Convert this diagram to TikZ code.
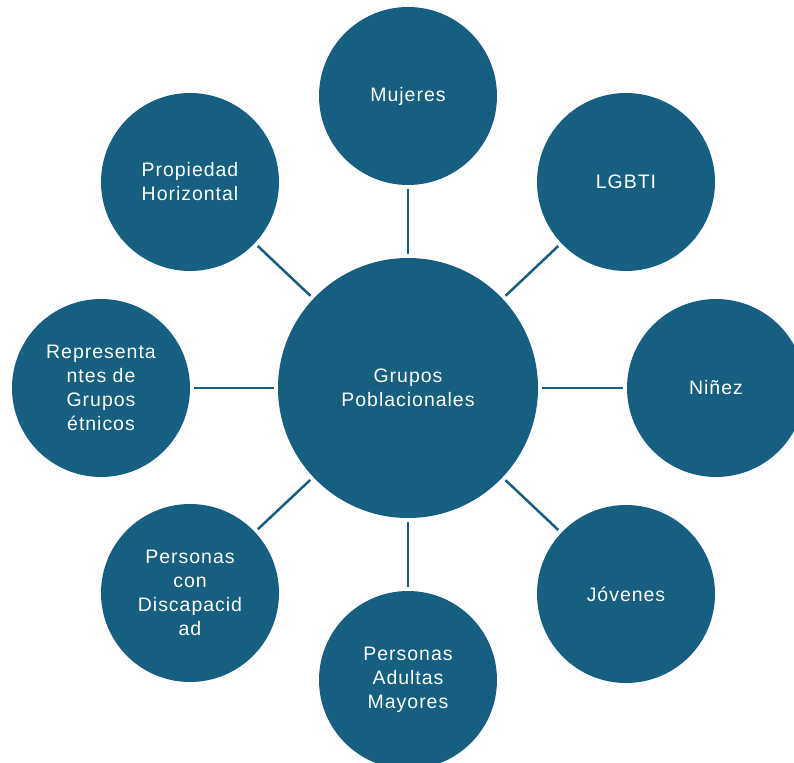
\documentclass[tikz,border=0pt]{standalone}
\usepackage{fontspec}
\setmainfont{Liberation Sans}[LetterSpace=5]
\definecolor{teal}{HTML}{165F80}
\begin{document}
\begin{tikzpicture}[
    x=1pt, y=1pt,
    bigCircle/.style={circle, fill=teal, minimum size=260pt},
    smallCircle/.style={circle, fill=teal, minimum size=178pt},
    link/.style={draw=teal, line width=2.5pt, shorten >=4pt, shorten <=4pt},
    every node/.style={
        text=white,
        align=center,
        inner sep=0pt,
        font=\fontsize{19.5}{24}\selectfont,
        }
        ]
    \useasboundingbox (0, 0) rectangle (794, -762);

    \node[bigCircle] (grupos) at (408, -388) {Grupos\\Poblacionales};

    \node[smallCircle] (mujeres) at (408, -96) {Mujeres};
    \node[smallCircle] (lgbti) at (626, -182) {LGBTI};
    \node[smallCircle] (ninez) at (716, -388) {Niñez};
    \node[smallCircle] (jovenes) at (626, -594) {Jóvenes};
    \node[smallCircle] (mayores) at (408, -680) {Personas\\Adultas\\Mayores};
    \node[smallCircle] (discapacidad) at (190, -593) {Personas\\con\\Discapacid\\ad};
    \node[smallCircle] (etnicos) at (101, -388) {Representa\\ntes de\\Grupos\\étnicos};
    \node[smallCircle] (propiedad) at (190, -182) {Propiedad\\Horizontal};

    \foreach \target in {mujeres, lgbti, ninez, jovenes, mayores, discapacidad, etnicos, propiedad}
        \draw[link] (grupos) -- (\target);
\end{tikzpicture}
\end{document}
